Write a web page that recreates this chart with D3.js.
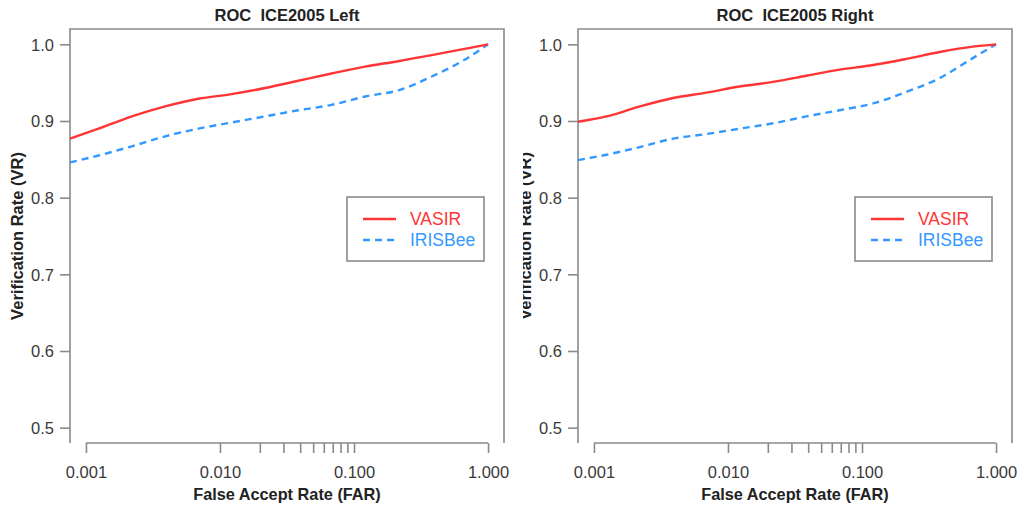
<!DOCTYPE html>
<html>
<head>
<meta charset="utf-8">
<script src="https://cdn.jsdelivr.net/npm/d3@7/dist/d3.min.js"></script>
<style>
  body { margin: 0; background: #fff; }
  svg { display: block; font-family: "Liberation Sans", Arial, sans-serif; }
</style>
</head>
<body>
<div id="chart"></div>
<script>
// False accept rates where the curves were sampled (shared by both panels)
const farPoints = [0.00076, 0.00124, 0.0022, 0.0039, 0.0069, 0.0122, 0.0217, 0.0384, 0.068, 0.121, 0.214, 0.38, 0.67, 1.0];

// ICE2005 Left
const leftVasir   = [0.877, 0.890, 0.906, 0.919, 0.929, 0.935, 0.943, 0.9525, 0.962, 0.971, 0.978, 0.986, 0.994, 1.0];
const leftIrisbee = [0.846, 0.855, 0.867, 0.880, 0.890, 0.898, 0.906, 0.914, 0.921, 0.932, 0.940, 0.958, 0.980, 1.0];

// ICE2005 Right
const rightVasir   = [0.899, 0.906, 0.919, 0.930, 0.937, 0.945, 0.951, 0.959, 0.967, 0.973, 0.981, 0.990, 0.997, 1.0];
const rightIrisbee = [0.849, 0.856, 0.866, 0.877, 0.883, 0.890, 0.897, 0.906, 0.914, 0.923, 0.938, 0.956, 0.982, 1.0];

const seriesNames = ["VASIR", "IRISBee"];
const panelTitles = ["ROC  ICE2005 Left", "ROC  ICE2005 Right"];
const xMajorTicks = [0.001, 0.01, 0.1, 1];
const xMinorTicks = [0.02, 0.03, 0.04, 0.05, 0.06, 0.07, 0.08, 0.09];
const yTicks = [0.5, 0.6, 0.7, 0.8, 0.9, 1.0];

const W = 1017, H = 506;
const red = "#ff3535", blue = "#3399ff", frame = "#8a8a8a", ink = "#3a3a3a";

const svg = d3.select("#chart").append("svg")
    .attr("width", W)
    .attr("height", H);

// clip for the right panel's y label (it is partly hidden in the original)
svg.append("defs").append("clipPath")
    .attr("id", "rightLabelClip")
    .append("rect")
    .attr("x", 523).attr("y", 0).attr("width", 60).attr("height", H);

function drawPanel(left, title, vasir, irisbee, labelClip) {
    const top = 29, bottom = 443, width = 434;
    const right = left + width;

    // log axis padded like R (4% each side of the data range)
    const x = d3.scaleLog()
        .domain([Math.pow(10, -3.119), Math.pow(10, 0.119)])
        .range([left, right]);
    const y = d3.scaleLinear()
        .domain([0.48, 1.02])
        .range([bottom, top]);

    const g = svg.append("g");

    // frame: left, top, right (bottom is the x axis)
    g.append("path")
        .attr("d", `M${left},${bottom}V${top}H${right}V${bottom}`)
        .attr("fill", "none")
        .attr("stroke", frame)
        .attr("stroke-width", 1.6);

    // y axis
    const yAxis = d3.axisLeft(y)
        .tickValues(yTicks)
        .tickFormat(d3.format(".1f"))
        .tickSize(10)
        .tickPadding(6);
    const ya = g.append("g")
        .attr("transform", `translate(${left},0)`)
        .call(yAxis);
    ya.select(".domain").remove();
    ya.selectAll("line").attr("stroke", frame).attr("stroke-width", 1.6);
    ya.selectAll("text").attr("fill", ink).style("font-size", "16.5px").attr("dy", "0.36em");

    // x axis (major + minor ticks)
    const xAxis = d3.axisBottom(x)
        .tickValues(xMajorTicks)
        .tickFormat(d3.format(".3f"))
        .tickSizeInner(10)
        .tickSizeOuter(0)
        .tickPadding(13);
    const xa = g.append("g")
        .attr("transform", `translate(0,${bottom})`)
        .call(xAxis);
    xa.select(".domain")
        .attr("d", `M${x(0.001)},0H${x(1)}`)
        .attr("stroke", frame).attr("stroke-width", 1.6);
    xa.selectAll("line").attr("stroke", frame).attr("stroke-width", 1.6);
    xa.selectAll("text").attr("fill", ink).style("font-size", "16.5px");

    g.append("g")
        .selectAll("line")
        .data(xMinorTicks)
        .join("line")
        .attr("x1", d => x(d)).attr("x2", d => x(d))
        .attr("y1", bottom).attr("y2", bottom + 10)
        .attr("stroke", frame).attr("stroke-width", 1.6);

    // titles
    g.append("text")
        .attr("x", (left + right) / 2)
        .attr("y", 21)
        .attr("text-anchor", "middle")
        .attr("font-weight", "bold")
        .attr("fill", "#222")
        .attr("xml:space", "preserve")
        .style("white-space", "pre")
        .style("font-size", "16.5px")
        .text(title);

    g.append("text")
        .attr("x", (left + right) / 2)
        .attr("y", 500)
        .attr("text-anchor", "middle")
        .attr("font-weight", "bold")
        .attr("fill", "#222")
        .style("font-size", "16.3px")
        .text("False Accept Rate (FAR)");

    const labWrap = g.append("g");
    if (labelClip) labWrap.attr("clip-path", `url(#${labelClip})`);
    labWrap.append("text")
        .attr("transform", `translate(${left - 47},${(top + bottom) / 2}) rotate(-90)`)
        .attr("text-anchor", "middle")
        .attr("font-weight", "bold")
        .attr("fill", "#222")
        .style("font-size", "16.5px")
        .text("Verification Rate (VR)");

    // curves
    const line = d3.line()
        .x(d => x(d[0]))
        .y(d => y(d[1]))
        .curve(d3.curveMonotoneX);

    g.append("path")
        .datum(d3.zip(farPoints, irisbee))
        .attr("d", line)
        .attr("fill", "none")
        .attr("stroke", blue)
        .attr("stroke-width", 2.4)
        .attr("stroke-dasharray", "7,5");

    g.append("path")
        .datum(d3.zip(farPoints, vasir))
        .attr("d", line)
        .attr("fill", "none")
        .attr("stroke", red)
        .attr("stroke-width", 2.4);

    // legend
    const lx = right - 157, ly = 197;
    const leg = g.append("g").attr("transform", `translate(${lx},${ly})`);
    leg.append("rect")
        .attr("width", 137).attr("height", 64)
        .attr("fill", "#fff")
        .attr("stroke", frame).attr("stroke-width", 1.6);

    const items = [
        { name: seriesNames[0], color: red, dash: null, dy: 22 },
        { name: seriesNames[1], color: blue, dash: "7,5", dy: 43 }
    ];
    const it = leg.selectAll("g.item").data(items).join("g")
        .attr("class", "item")
        .attr("transform", d => `translate(0,${d.dy})`);
    it.append("line")
        .attr("x1", 16).attr("x2", 49)
        .attr("stroke", d => d.color)
        .attr("stroke-width", 2.4)
        .attr("stroke-dasharray", d => d.dash);
    it.append("text")
        .attr("x", 63).attr("y", 6)
        .attr("fill", d => d.color)
        .style("font-size", "17.5px")
        .text(d => d.name);
}

drawPanel(70, panelTitles[0], leftVasir, leftIrisbee, null);
drawPanel(578, panelTitles[1], rightVasir, rightIrisbee, "rightLabelClip");
</script>
</body>
</html>
